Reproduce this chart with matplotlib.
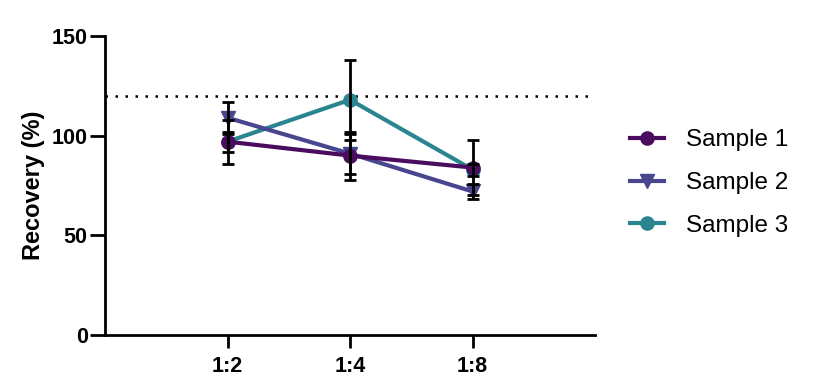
import matplotlib.pyplot as plt
import numpy as np

plt.rcParams['font.family'] = ['Liberation Sans', 'DejaVu Sans']

# data
dilutions = ["1:2", "1:4", "1:8"]
sample1 = [97, 90, 84]
sample1_err = [11, 12, 14]
sample2 = [109, 91, 72]
sample2_err = [8, 10, 4]
sample3 = [97, 118, 83]
sample3_err = [5, 20, 3]
target = 120

names = ["Sample 1", "Sample 2", "Sample 3"]
colors = ["#4a0c5e", "#47468f", "#2a8591"]
markers = ["o", "v", "o"]

fig = plt.figure(figsize=(8.13, 3.81), dpi=100)
ax = fig.add_axes([105 / 813, 1 - 335 / 381, 490 / 813, 299 / 381])

x = np.arange(1, len(dilutions) + 1)
series = [(sample1, sample1_err), (sample2, sample2_err), (sample3, sample3_err)]

# draw sample 3 first so sample 1 ends up on top
for i in [2, 1, 0]:
    vals, errs = series[i]
    ax.plot(x, vals, color=colors[i], marker=markers[i], markersize=9.5,
            linewidth=3, label=names[i], zorder=3 + (2 - i))
    ax.errorbar(x, vals, yerr=errs, fmt='none', ecolor='black',
                elinewidth=2, capsize=4.5, capthick=2, zorder=6)

# target line
ax.axhline(target, color='black', linestyle=(0, (1, 3)), linewidth=1.8, zorder=1)

ax.set_xlim(0, 4)
ax.set_ylim(0, 150)
ax.set_xticks(x)
ax.set_xticklabels(dilutions)
ax.set_yticks([0, 50, 100, 150])
ax.set_ylabel("Recovery (%)", fontsize=17, fontweight='bold', labelpad=5)

for side in ['top', 'right']:
    ax.spines[side].set_visible(False)
for side in ['left', 'bottom']:
    ax.spines[side].set_linewidth(2)
ax.tick_params(axis='both', width=2, labelsize=15.5)
ax.tick_params(axis='y', length=11, pad=1.5)
ax.tick_params(axis='x', length=9, pad=6)
for lab in ax.get_xticklabels() + ax.get_yticklabels():
    lab.set_fontweight('bold')

handles, labels = ax.get_legend_handles_labels()
order = [labels.index(n) for n in names]
fig.legend([handles[k] for k in order], [labels[k] for k in order],
           loc='center left', bbox_to_anchor=(630 / 813, 1 - 183 / 381),
           frameon=False, fontsize=17.5, handlelength=1.4, handletextpad=0.9,
           labelspacing=0.86, borderpad=0, borderaxespad=0)

fig.savefig("out.png", dpi=100)
